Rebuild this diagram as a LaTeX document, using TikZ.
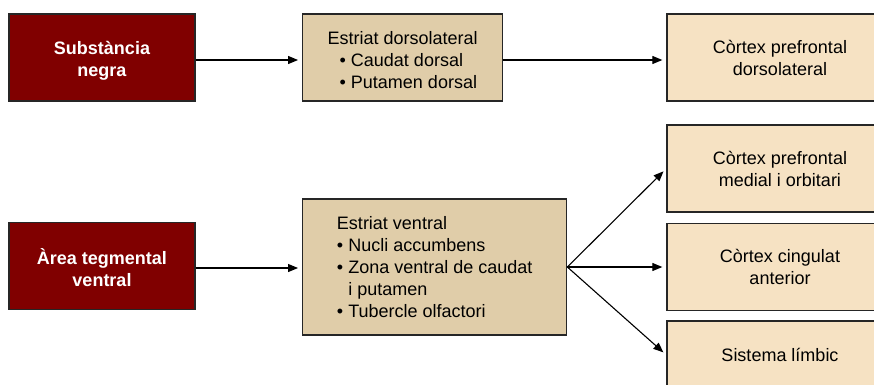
\documentclass[tikz,border=0pt]{standalone}
\usepackage{fontspec}
\setmainfont{Liberation Sans}
\usetikzlibrary{arrows.meta}
\definecolor{darkred}{HTML}{800000}
\definecolor{tanfill}{HTML}{E0CDA9}
\definecolor{lightfill}{HTML}{F6E2C3}
\definecolor{edge}{HTML}{262626}
\newcommand{\lowstrut}{\rule{0pt}{19bp}}
\tikzset{
  box/.style={draw=edge, line width=1.3bp, inner sep=0pt, font=\fontsize{18bp}{22bp}\selectfont},
  redbox/.style={box, fill=darkred, text=white, font=\fontsize{18bp}{22bp}\selectfont\bfseries, align=center, minimum width=186bp, minimum height=87bp},
  tanbox/.style={box, fill=tanfill, align=left},
  lightbox/.style={box, fill=lightfill, align=center, minimum width=226bp, minimum height=87bp},
  arr/.style={-{Triangle[length=10bp,width=8bp]}, line width=1.1bp, black, shorten >=4bp}
}
\begin{document}
\begin{tikzpicture}[x=1bp,y=-1bp]
\useasboundingbox (0,0) rectangle (874,384);
\node[redbox] (sn) at (102,57.5) {\lowstrut Substància\\negra};
\node[tanbox, minimum width=200bp, minimum height=87bp] (ed) at (402.7,57.5)
  {\lowstrut Estriat dorsolateral\\\hspace*{12bp}• Caudat dorsal\\\hspace*{12bp}• Putamen dorsal};
\node[lightbox] (cpd) at (780,57.5) {Còrtex prefrontal\\dorsolateral};
\node[redbox] (atv) at (102,266) {\lowstrut Àrea tegmental\\ventral};
\node[tanbox, minimum width=264bp, minimum height=136bp] (ev) at (434.7,267)
  {Estriat ventral\\• Nucli accumbens\\• Zona ventral de caudat\\\phantom{• }i putamen\\• Tubercle olfactori};
\node[lightbox] (cpm) at (780,168.5) {Còrtex prefrontal\\medial i orbitari};
\node[lightbox] (cca) at (780,267) {Còrtex cingulat\\anterior};
\node[lightbox, minimum height=68bp] (sl) at (780,355) {Sistema límbic};
\draw[arr] (sn.east |- 0,60) -- (ed.west |- 0,60);
\draw[arr] (ed.east |- 0,60) -- (cpd.west |- 0,60);
\draw[arr] (atv.east |- 0,268) -- (ev.west |- 0,268);
\draw[arr] (ev.east) -- (cpm.west);
\draw[arr] (ev.east) -- (cca.west);
\draw[arr] (ev.east) -- (sl.west);
\end{tikzpicture}
\end{document}
